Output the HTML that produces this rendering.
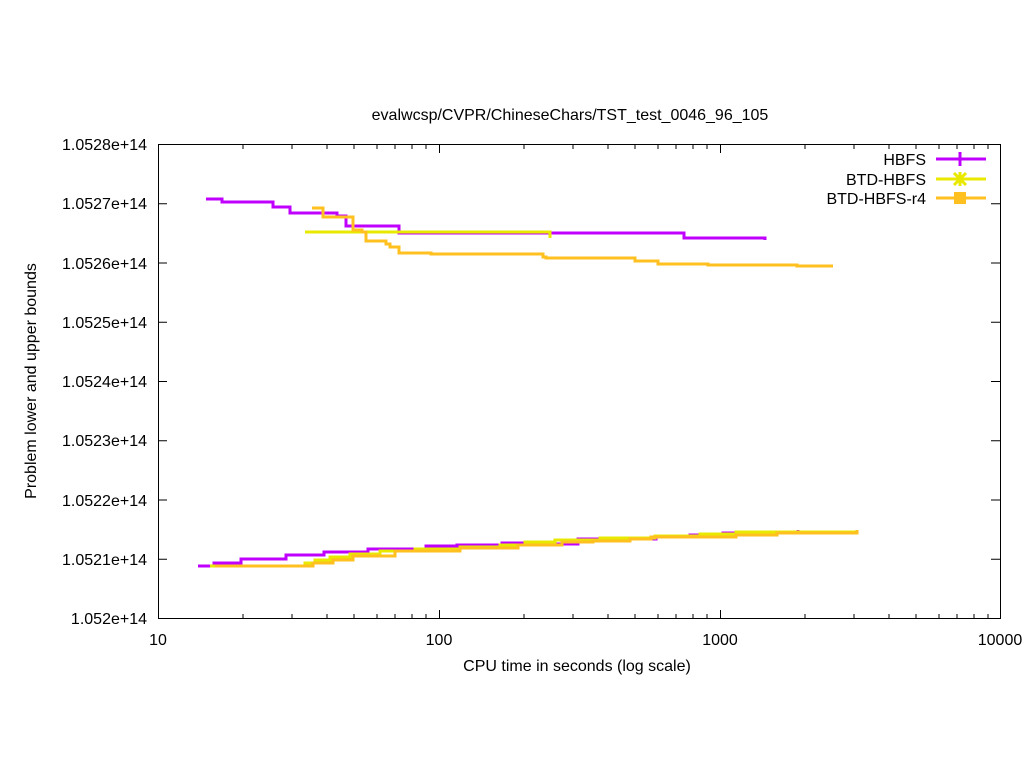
<!DOCTYPE html>
<html><head><meta charset="utf-8"><style>
body{margin:0;background:#fff}
svg{display:block}
text{font-family:"Liberation Sans",sans-serif;font-size:16px;fill:#000}
</style></head><body>
<svg width="1024" height="768" viewBox="0 0 1024 768" xmlns="http://www.w3.org/2000/svg">
<text x="570" y="120" text-anchor="middle">evalwcsp/CVPR/ChineseChars/TST_test_0046_96_105</text>
<g stroke="#000" stroke-width="1" fill="none">
<rect x="158.5" y="144.5" width="842" height="474"/>
<path d="M158 144.5h9M1000 144.5h-9 M158 203.75h9M1000 203.75h-9 M158 263h9M1000 263h-9 M158 322.25h9M1000 322.25h-9 M158 381.5h9M1000 381.5h-9 M158 440.75h9M1000 440.75h-9 M158 500h9M1000 500h-9 M158 559.25h9M1000 559.25h-9 M158 618.5h9M1000 618.5h-9"/>
<path d="M158.5 619v-9M158.5 144v9 M439.5 619v-9M439.5 144v9 M720.5 619v-9M720.5 144v9 M1000.5 619v-9M1000.5 144v9
M243 619v-5M243 144v5 M292 619v-5M292 144v5 M327 619v-5M327 144v5 M354 619v-5M354 144v5 M377 619v-5M377 144v5 M395 619v-5M395 144v5 M412 619v-5M412 144v5 M426 619v-5M426 144v5
M524 619v-5M524 144v5 M573 619v-5M573 144v5 M608 619v-5M608 144v5 M635 619v-5M635 144v5 M658 619v-5M658 144v5 M676 619v-5M676 144v5 M693 619v-5M693 144v5 M707 619v-5M707 144v5
M805 619v-5M805 144v5 M854 619v-5M854 144v5 M889 619v-5M889 144v5 M916 619v-5M916 144v5 M939 619v-5M939 144v5 M957 619v-5M957 144v5 M974 619v-5M974 144v5 M988 619v-5M988 144v5"/>
</g>
<g text-anchor="end">
<text x="147" y="150">1.0528e+14</text>
<text x="147" y="209">1.0527e+14</text>
<text x="147" y="269">1.0526e+14</text>
<text x="147" y="328">1.0525e+14</text>
<text x="147" y="387">1.0524e+14</text>
<text x="147" y="446">1.0523e+14</text>
<text x="147" y="506">1.0522e+14</text>
<text x="147" y="565">1.0521e+14</text>
<text x="147" y="624">1.052e+14</text>
</g>
<g text-anchor="middle">
<text x="158" y="645">10</text>
<text x="439" y="645">100</text>
<text x="720" y="645">1000</text>
<text x="1000" y="645">10000</text>
<text x="577" y="671">CPU time in seconds (log scale)</text>
</g>
<text transform="translate(36,381) rotate(-90)" text-anchor="middle">Problem lower and upper bounds</text>
<g text-anchor="end">
<text x="926" y="165">HBFS</text>
<text x="926" y="185">BTD-HBFS</text>
<text x="926" y="204">BTD-HBFS-r4</text>
</g>
<g fill="none" stroke-width="3">
<path d="M936 159h50M960 152v14" stroke="#c000ff"/>
<path d="M936 179h50" stroke="#e8e800"/>
<path d="M954 173l12 12M954 185l12-12M960 172v14M953 179h14" stroke="#e8e800"/>
<path d="M936 198h50" stroke="#ffc020"/>
</g>
<rect x="954" y="192" width="12" height="12" fill="#ffc020"/>
<g fill="none" stroke-width="3" stroke-linejoin="miter">
<path stroke="#c000ff" d="M206 199H222V202H273V207H290V213H337V216H346V226H399V233H684V238H765V240"/>
<path stroke="#e8e800" d="M305 232H550V238"/>
<path stroke="#ffc020" d="M312 208H323V217H353V230H362V232H366V241H386V244H390V247H399V253H431V254H543V257H546V258H635V261H658V264H708V265H797V266H833"/>
<path stroke="#c000ff" d="M198 566H214V563H241V559H286V555H324V552H368V549H426V546H457V545H502V543H530V544H578V539H656V537H690V535H723V533H777V532H798V530"/>
<path stroke="#e8e800" d="M210 566H305V563H315V560H330V557H350V554H380V551H415V549H460V547H500V545H525V542H555V540H600V538H655V536H700V534H736V532H857V530"/>
<path stroke="#ffc020" d="M215 566H313V563H333V560H353V556H395V551H460V548H518V545H562V542H593V541H630V539H651V537H736V535H777V533H857V530"/>
</g>
</svg>
</body></html>
